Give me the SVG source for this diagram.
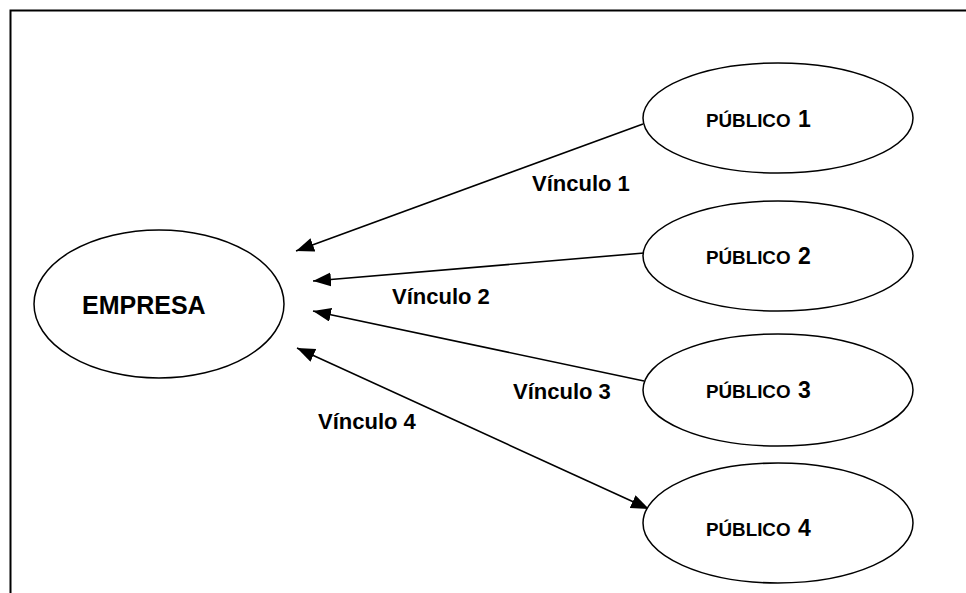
<svg xmlns="http://www.w3.org/2000/svg" width="966" height="593" viewBox="0 0 966 593">
<defs>
<marker id="arrow" markerUnits="userSpaceOnUse" markerWidth="20" markerHeight="16" viewBox="0 0 20 16" refX="18" refY="7" orient="auto-start-reverse">
<path d="M0,0 L18,7 L0,14 z" fill="#000"/>
</marker>
</defs>
<style>
.node ellipse { fill: #fff; stroke: #000; stroke-width: 1.5; }
.lbl { font-family: "Liberation Sans", Arial, sans-serif; font-weight: bold; fill: #000; }
.pub { font-size: 18.8px; }
.num { font-size: 23px; }
.vin { font-size: 22px; }
.conn line { stroke: #000; stroke-width: 1.6; }
</style>
<rect width="966" height="593" fill="#fff"/>
<path d="M10.5 593 V10.5 H966" fill="none" stroke="#000" stroke-width="2"/>

<g id="connectors" class="conn">
<line x1="643" y1="124" x2="296" y2="251" marker-end="url(#arrow)"/>
<line x1="644" y1="253" x2="313" y2="281" marker-end="url(#arrow)"/>
<line x1="644" y1="381" x2="313" y2="311" marker-end="url(#arrow)"/>
<line x1="297" y1="348" x2="649" y2="509" marker-start="url(#arrow)" marker-end="url(#arrow)"/>
</g>

<g id="empresa" class="node">
<ellipse cx="159" cy="304" rx="125" ry="74"/>
<text class="lbl" x="82" y="314" font-size="25">EMPRESA</text>
</g>

<g id="publico1" class="node">
<ellipse cx="778" cy="118" rx="135" ry="55"/>
<text class="lbl pub" x="706" y="127">PÚBLICO<tspan class="num" x="798">1</tspan></text>
</g>

<g id="publico2" class="node">
<ellipse cx="778" cy="256" rx="135" ry="55"/>
<text class="lbl pub" x="706" y="264">PÚBLICO<tspan class="num" x="798">2</tspan></text>
</g>

<g id="publico3" class="node">
<ellipse cx="778" cy="390" rx="135" ry="56"/>
<text class="lbl pub" x="706" y="398">PÚBLICO<tspan class="num" x="798">3</tspan></text>
</g>

<g id="publico4" class="node">
<ellipse cx="778" cy="523" rx="135" ry="60"/>
<text class="lbl pub" x="706" y="536">PÚBLICO<tspan class="num" x="798">4</tspan></text>
</g>

<g id="labels">
<text class="lbl vin" x="532" y="191">Vínculo 1</text>
<text class="lbl vin" x="392" y="304">Vínculo 2</text>
<text class="lbl vin" x="513" y="399">Vínculo 3</text>
<text class="lbl vin" x="318" y="429">Vínculo 4</text>
</g>
</svg>
